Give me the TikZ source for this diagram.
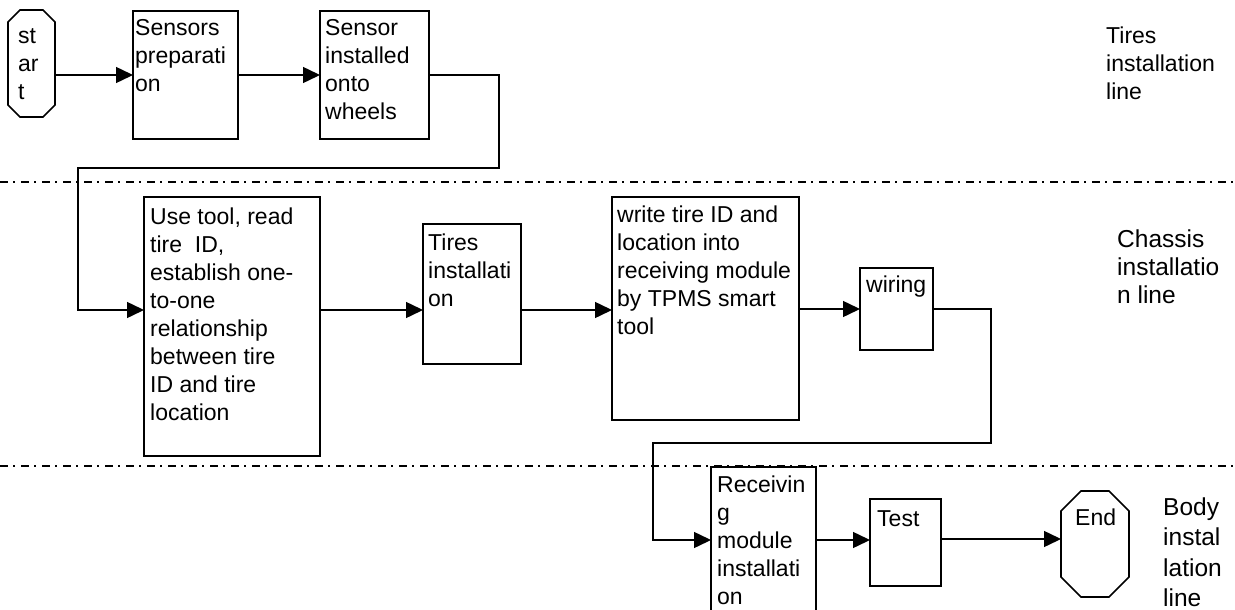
\documentclass[tikz,border=0pt]{standalone}
\usepackage{fontspec}
\setmainfont{Liberation Sans}
\usetikzlibrary{arrows.meta,calc}
\newcommand\mystrut{\rule{0pt}{20pt}}
\newcommand\octpath[2]{\draw[boxline] ($(#1.north west)+(#2,0)$) -- ($(#1.north east)+(-#2,0)$) -- ($(#1.north east)+(0,#2)$) -- ($(#1.south east)+(0,-#2)$) -- ($(#1.south east)+(-#2,0)$) -- ($(#1.south west)+(#2,0)$) -- ($(#1.south west)+(0,-#2)$) -- ($(#1.north west)+(0,#2)$) -- cycle;}
\begin{document}
\begin{tikzpicture}[x=1pt,y=-1pt,
  boxline/.style={line width=1.6pt, line join=miter},
  box/.style={draw, boxline, inner sep=0pt, outer sep=0pt},
  ghost/.style={draw=none, inner sep=0pt, outer sep=0pt},
  lbl/.style={anchor=north west, inner sep=0pt, align=left, font=\fontsize{23}{28}\selectfont},
  arr/.style={line width=1.5pt, -{Triangle[length=17pt,width=16pt]}},
  conn/.style={line width=1.5pt},
  lane/.style={line width=1.3pt, dash pattern=on 8pt off 5pt on 2pt off 6pt}]
\useasboundingbox (0,0) rectangle (1235,610);
\fill[white] (0,0) rectangle (1235,610);
\clip (0,0) rectangle (1235,610);

% lane separators
\coordinate (la) at (0,182); \coordinate (lb) at (1235,182);
\coordinate (lc) at (0,466); \coordinate (ld) at (1235,466);
\draw[lane] (la) -- (lb);
\draw[lane] (lc) -- (ld);

% nodes
\node[ghost, minimum width=47, minimum height=107] (st) at (31.5,63.5) {};
\octpath{st}{12}
\node[box, minimum width=105, minimum height=128] (sp) at (185.5,75) {};
\node[box, minimum width=109, minimum height=128] (si) at (374.5,75) {};
\node[box, minimum width=176, minimum height=259] (ut) at (232,326.5) {};
\node[box, minimum width=98, minimum height=140] (ti) at (472,294) {};
\node[box, minimum width=187, minimum height=223] (wr) at (705.5,308.5) {};
\node[box, minimum width=73, minimum height=82] (wi) at (896.5,309) {};
\node[box, minimum width=105, minimum height=173] (rc) at (763.5,553.5) {};
\node[box, minimum width=71, minimum height=87] (te) at (905.5,542.5) {};
\node[ghost, minimum width=68, minimum height=106] (en) at (1095,544) {};
\octpath{en}{20}

% texts
\node[lbl] (tst) at (18,23) {\mystrut st\\ar\\t};
\node[lbl] (tsp) at (135,15) {\mystrut Sensors\\preparati\\on};
\node[lbl] (tsi) at (325,15) {\mystrut Sensor\\installed\\onto\\wheels};
\node[lbl] (tut) at (150,204) {\mystrut Use tool, read\\tire~ ID,\\establish one-\\to-one\\relationship\\between tire\\ID and tire\\location};
\node[lbl] (tti) at (428,230) {\mystrut Tires\\installati\\on};
\node[lbl] (twr) at (617,202) {\mystrut write tire ID and\\location into\\receiving module\\by TPMS smart\\tool};
\node[lbl] (twi) at (866,272) {\mystrut wiring};
\node[lbl] (trc) at (717,472) {\mystrut Receivin\\g\\module\\installati\\on};
\node[lbl] (tte) at (877,506) {\mystrut Test};
\node[lbl] (ten) at (1075,505) {\mystrut End};
\node[lbl] (l1) at (1106,23) {\mystrut Tires\\installation\\line};
\node[lbl, font=\fontsize{24.5}{28}\selectfont] (l2) at (1117,227) {\mystrut Chassis\\installatio\\n line};
\node[lbl, font=\fontsize{24.5}{30.5}\selectfont] (l3) at (1163,495) {\mystrut Body\\instal\\lation\\line};

% connectors
\coordinate (r1) at (499,168);
\coordinate (r2) at (78,310);
\coordinate (r3) at (991,443);
\coordinate (r4) at (653,540);
\coordinate (r5) at (0,539);
\draw[arr] (st.east |- sp.west) -- (sp.west);
\draw[arr] (sp.east) -- (si.west);
\draw[arr] (si.east) -| (r1) -| (r2) -- (r2 -| ut.west);
\draw[arr] (r2 -| ut.east) -- (r2 -| ti.west);
\draw[arr] (r2 -| ti.east) -- (r2 -| wr.west);
\draw[arr] (wr.east |- wi.west) -- (wi.west);
\draw[arr] (wi.east) -| (r3) -| (r4) -- (r4 -| rc.west);
\draw[arr] (r4 -| rc.east) -- (r4 -| te.west);
\draw[arr] (r5 -| te.east) -- (r5 -| en.west);
\end{tikzpicture}
\end{document}
